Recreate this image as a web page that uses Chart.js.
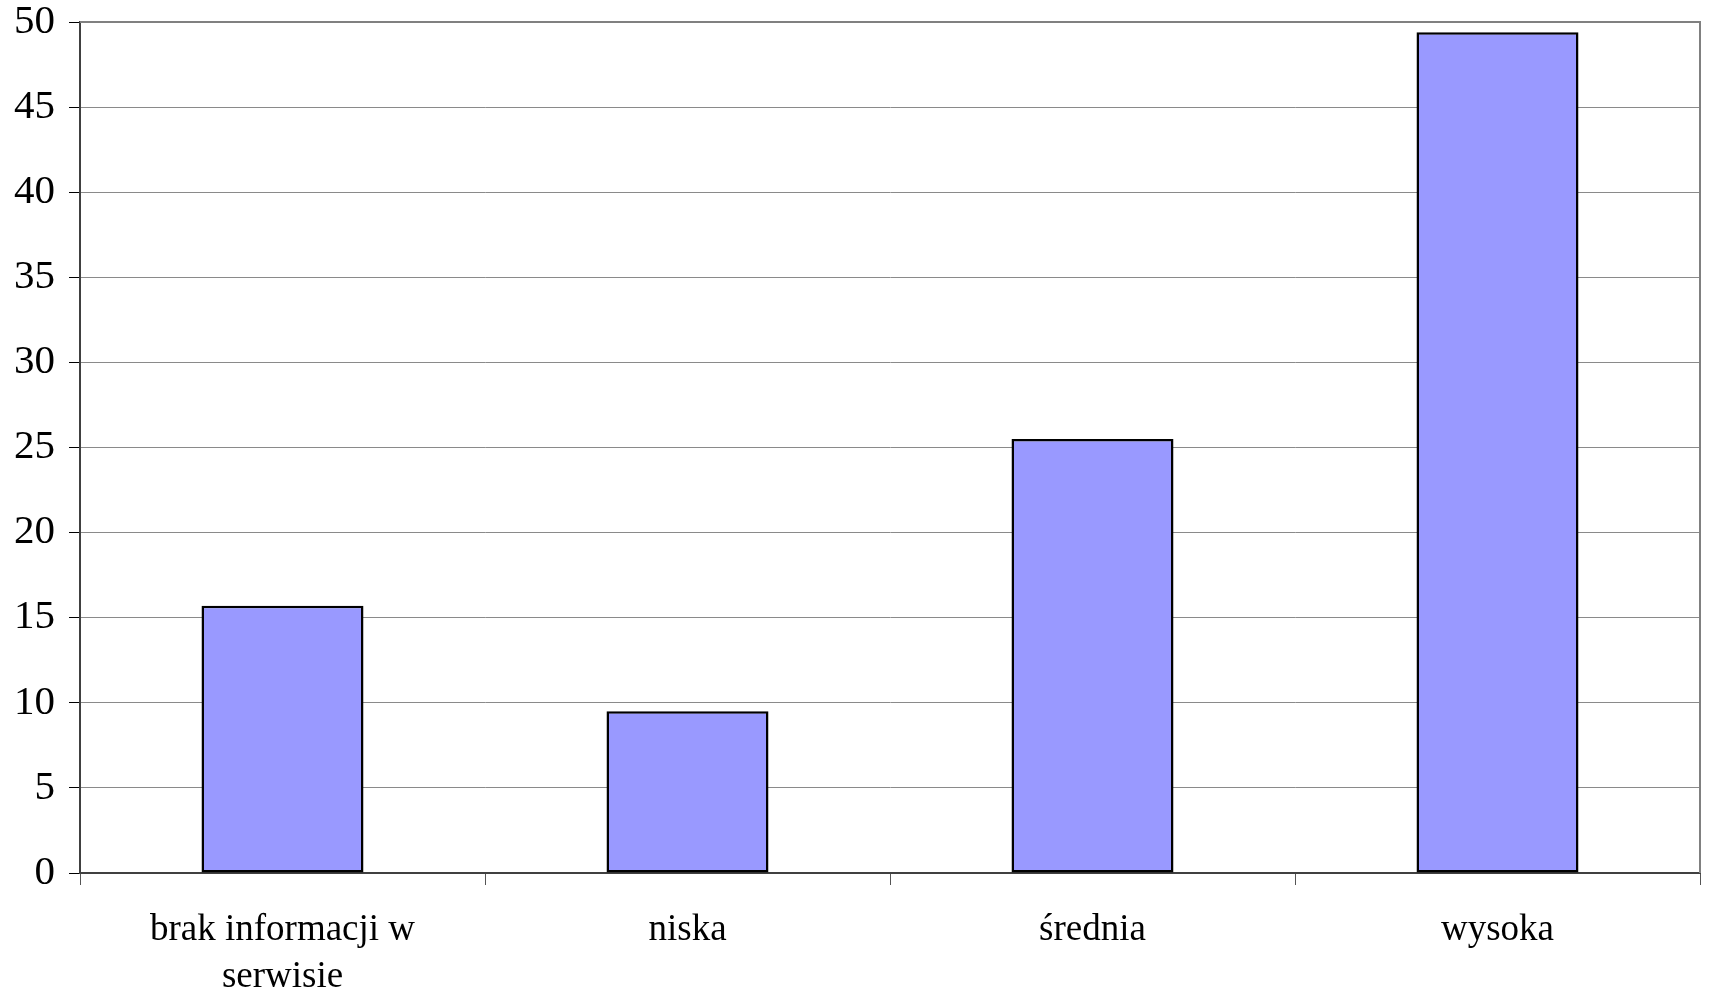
<!DOCTYPE html>
<html>
<head>
<meta charset="utf-8">
<script src="https://cdn.jsdelivr.net/npm/chart.js@4"></script>
<style>
  html, body { margin: 0; padding: 0; background: #fff; }
  #wrap { width: 1709px; height: 993px; }
</style>
</head>
<body>
<div id="wrap"><canvas id="ocena"></canvas></div>
<script>
const kategorie = [["brak informacji w", "serwisie"], "niska", "średnia", "wysoka"];
const wartosci = [15.7, 9.5, 25.5, 49.4];

// ramka u góry i po prawej stronie pola wykresu
const ramka = {
  id: "ramka",
  afterDraw(chart) {
    const { ctx, chartArea: a } = chart;
    ctx.save();
    ctx.strokeStyle = "#808080";
    ctx.lineWidth = 2;
    ctx.beginPath();
    ctx.moveTo(a.left, a.top);
    ctx.lineTo(a.right, a.top);
    ctx.lineTo(a.right, a.bottom);
    ctx.stroke();
    ctx.restore();
  }
};

Chart.defaults.font.family = "'Liberation Serif', 'Times New Roman', serif";
Chart.defaults.color = "#000";

new Chart(document.getElementById("ocena"), {
  type: "bar",
  data: {
    labels: kategorie,
    datasets: [{
      data: wartosci,
      backgroundColor: "#9999ff",
      borderColor: "#000",
      borderWidth: 2.5,
      borderSkipped: false,
      barPercentage: 0.4,
      categoryPercentage: 1
    }]
  },
  options: {
    responsive: true,
    maintainAspectRatio: false,
    animation: false,
    layout: { padding: { top: 22, right: 9, left: 0, bottom: 0 } },
    plugins: {
      legend: { display: false },
      tooltip: { enabled: false }
    },
    scales: {
      y: {
        min: 0,
        max: 50,
        ticks: { stepSize: 5, padding: 14, font: { size: 41 } },
        grid: {
          color: "#8a8a8a",
          lineWidth: 1,
          tickColor: "#000",
          tickLength: 11
        },
        border: { color: "#404040", width: 2 },
        afterFit(s) {
          s.width = 80;
          s.paddingTop = 0;
        }
      },
      x: {
        ticks: { padding: 22, font: { size: 37, lineHeight: 1.27 } },
        grid: {
          drawOnChartArea: false,
          tickColor: "#555",
          tickLength: 12,
          offset: true
        },
        border: { color: "#404040", width: 2 },
        afterFit(s) { s.height = 120; }
      }
    }
  },
  plugins: [ramka]
});
</script>
</body>
</html>
